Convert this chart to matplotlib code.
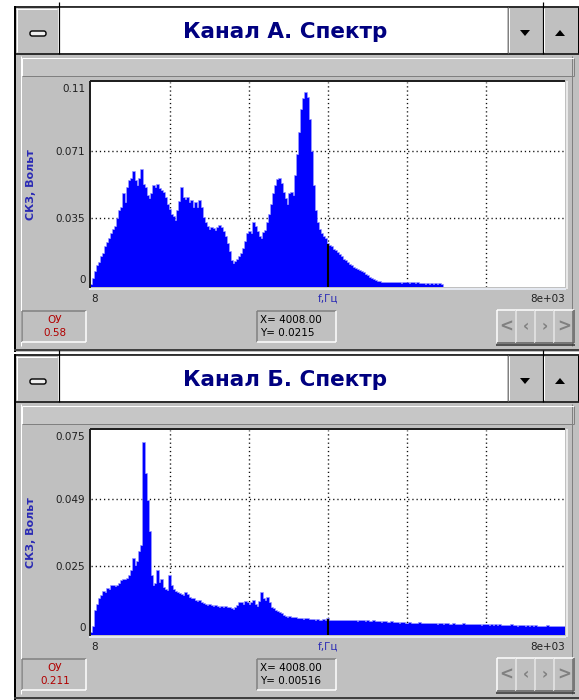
import numpy as np
import matplotlib
matplotlib.use("Agg")
import matplotlib.pyplot as plt
from matplotlib.patches import Rectangle, Polygon, FancyBboxPatch
from matplotlib import font_manager as fm

W, H, DPI = 579, 700, 100

installed = {f.name for f in fm.fontManager.ttflist}
NARROW = "Liberation Sans Narrow" if "Liberation Sans Narrow" in installed else "DejaVu Sans"

# ---------------------------------------------------------------- data
F_MIN, F_MAX = 8.0, 8000.0
N_BINS = 237  # spectral lines across the band

titles = ["Канал А. Спектр", "Канал Б. Спектр"]

# RMS per spectral line, millivolts (channel A)
spectrum_a_mv = [
    0, 3.0, 6.6, 10.2, 11.5, 14.7, 16.5, 20.0, 22.2, 24.0,
    26.9, 29.0, 30.8, 34.7, 38.8, 40.6, 47.8, 43.3, 51.4, 55.0,
    55.8, 59.8, 55.0, 52.3, 55.8, 60.9, 52.6, 51.4, 46.9, 45.1,
    47.8, 52.3, 51.4, 52.6, 50.8, 49.6, 48.7, 46.0, 42.4, 39.7,
    37.1, 35.8, 34.0, 38.8, 43.7, 51.4, 46.0, 44.8, 46.0, 43.3,
    44.2, 40.6, 43.0, 40.6, 44.2, 40.6, 35.3, 32.6, 30.8, 29.0,
    29.9, 29.4, 28.6, 29.9, 31.1, 29.9, 28.1, 25.4, 21.8, 17.4,
    12.9, 11.1, 12.0, 13.2, 14.7, 16.5, 19.2, 22.7, 26.9, 28.1,
    26.9, 32.9, 30.8, 28.1, 25.4, 24.5, 27.2, 28.6, 32.6, 37.1,
    42.4, 47.8, 52.3, 55.5, 55.8, 53.2, 48.7, 45.1, 42.4, 47.8,
    48.7, 46.9, 57.6, 68.4, 80.0, 92.5, 97.9, 101.0, 98.5, 87.2,
    70.2, 52.3, 38.8, 32.9, 29.0, 26.9, 25.4, 24.0, 21.5, 20.8,
    20.0, 18.6, 17.9, 16.8, 15.6, 14.7, 13.2, 12.5, 11.5, 10.7,
    10.0, 9.0, 8.2, 7.9, 7.2, 6.8, 6.1, 5.4, 4.8, 3.9,
    3.2, 2.5, 2.1, 1.8, 1.4, 1.3, 1.1, 0.9, 0.9, 1.1,
    0.9, 1.0, 0.8, 0.9, 1.1, 0.7, 0.8, 1.0, 0.9, 0.6,
    0.8, 0.9, 0.7, 0.8, 0.6, 0.7, 0.5,
    0.0, 0.4, 0.0, 0.5, 0.0, 0.4, 0.0, 0.4, 0.0,
]

# RMS per spectral line, millivolts (channel B)
spectrum_b_mv = [
    0, 2.1, 8.2, 10.3, 12.5, 13.7, 15.2, 14.9, 16.4, 15.9,
    17.4, 17.6, 17.1, 17.6, 18.3, 19.2, 19.8, 19.6, 20.0, 21.0,
    22.9, 27.4, 24.7, 26.5, 30.2, 32.3, 70.5, 58.9, 49.1, 37.5,
    21.0, 17.4, 18.0, 22.9, 18.6, 19.8, 16.7, 16.1, 15.5, 21.0,
    17.6, 15.9, 15.2, 14.9, 14.4, 14.2, 13.7, 14.7, 13.9, 13.1,
    12.5, 12.7, 11.9, 11.5, 11.7, 11.0, 10.6, 10.3, 10.0, 10.5,
    10.0, 9.8, 10.0, 9.7, 9.4, 9.8, 9.3, 9.5, 9.2, 9.3,
    8.8, 8.6, 9.3, 10.0, 11.2, 11.0, 10.3, 11.5, 11.0, 10.5,
    11.2, 11.9, 10.5, 9.8, 11.5, 14.7, 12.5, 11.9, 13.1, 11.0,
    9.4, 8.8, 8.1, 7.8, 7.3, 7.1, 6.4, 6.1, 5.7, 5.9,
    5.5, 5.4, 5.5, 5.1, 5.3, 5.1, 5.0, 5.1, 5.3, 4.9,
    4.8, 5.0, 4.6, 4.8, 4.5, 4.6, 4.8, 4.5, 5.2, 4.6,
    4.4, 4.5, 4.4, 4.6, 4.4, 4.5, 4.3, 4.4, 4.3, 4.4,
    4.5, 4.3, 4.4, 4.2, 4.5, 4.3, 4.4, 4.2, 4.3, 4.2,
    4.0, 4.3, 4.0, 3.9, 4.0, 3.8, 3.9, 4.0, 3.8, 3.7,
    3.9, 3.7,
    3.6, 3.7, 3.5, 3.6, 3.8, 3.5, 3.4, 3.6, 3.5, 3.3,
    3.5, 3.4, 3.6, 3.3, 3.4, 3.2, 3.4, 3.3, 3.5, 3.2,
    3.3, 3.1, 3.3, 3.2, 3.0, 3.2, 3.3, 3.1, 3.0, 3.2,
    3.1, 2.9, 3.1, 3.0, 3.2, 2.9, 3.0, 2.8, 3.0, 2.9,
    3.1, 2.8, 2.9, 2.7, 2.9, 2.8, 3.0, 2.7, 2.8, 2.6,
    2.8, 2.7, 2.9, 2.6, 2.7, 2.5, 2.7, 2.6, 2.8, 2.5,
    2.6, 2.4, 2.6, 2.5, 2.7, 2.4, 2.5, 2.3, 2.5, 2.4,
    2.6, 2.3, 2.4, 2.2, 2.4, 2.3, 2.5, 2.2, 2.3, 2.1,
    2.3, 2.2, 2.4, 2.1, 2.2,
]
spectra_mv = [spectrum_a_mv, spectrum_b_mv]

# vertical scale: full-scale value, tick values and their printed labels
y_full = [0.106, 0.0745]
y_ticks = [[0, 0.0353, 0.0707, 0.106], [0, 0.0248, 0.0497, 0.0745]]
y_tick_labels = [["0", "0.035", "0.071", "0.11"], ["0", "0.025", "0.049", "0.075"]]
x_tick_labels = ["8", "f,Гц", "8e+03"]
y_axis_title = "СКЗ, Вольт"

# cursor readouts and gain indicator
cursor_x = [4008.0, 4008.0]
cursor_y = [0.0215, 0.00516]
gain_label = "ОУ"
gain_values = ["0.58", "0.211"]

# ---------------------------------------------------------------- colours
GRAY = "#c0c0c0"
DARK = "#808080"
NAVY = "#000080"
BLUE = "#0000ff"
EDGE_BLUE = "#7070ff"
LABEL_BLUE = "#2a2ab4"
RED = "#b00000"

fig = plt.figure(figsize=(W / DPI, H / DPI), dpi=DPI)
fig.patch.set_facecolor("white")
bg = fig.add_axes([0, 0, 1, 1])
bg.set_xlim(0, W)
bg.set_ylim(H, 0)
bg.axis("off")

PX = 72.0 / DPI  # one pixel in points


def rect(x0, y0, x1, y1, fc, ec="none", lw=0.0, z=1):
    bg.add_patch(Rectangle((x0, y0), x1 - x0, y1 - y0, facecolor=fc,
                           edgecolor=ec, linewidth=lw, zorder=z))


def line(xs, ys, color, width=1.0, z=3):
    bg.plot(xs, ys, color=color, lw=width * PX, solid_capstyle="butt", zorder=z)


def bevel(x0, y0, x1, y1, light, dark, width=1.0, z=3):
    line([x0, x1], [y0, y0], light, width, z)
    line([x0, x0], [y0, y1], light, width, z)
    line([x0, x1], [y1, y1], dark, width, z)
    line([x1, x1], [y0, y1], dark, width, z)


def fig_axes(x0, y0, x1, y1):
    return fig.add_axes([x0 / W, 1 - y1 / H, (x1 - x0) / W, (y1 - y0) / H])


def draw_panel(k, top):
    # window frame and body
    rect(14, top, W + 2, top + 346, GRAY, z=1)
    line([14.5, 14.5], [top, top + 346], "black", 2)
    line([20.5, 20.5], [top + 50, top + 340], "white", 1)
    line([571.5, 571.5], [top + 50, top + 340], DARK, 1)

    # title bar
    rect(15, top + 1, 58, top + 47, GRAY, z=2)
    rect(58, top + 1, 507, top + 47, "white", z=2)
    rect(507, top + 1, 578, top + 47, GRAY, z=2)
    line([14, W], [top + 0.5, top + 0.5], "black", 1.5, z=4)
    line([14, W], [top + 47.5, top + 47.5], "black", 1.5, z=4)
    for xs in (58.5, 542.5):
        line([xs, xs], [top - 4, top + 47.5], "black", 1.2, z=4)
    line([507.5, 507.5], [top + 1, top + 47], DARK, 1, z=4)
    line([508.5, 508.5], [top + 2, top + 46], "white", 1, z=4)
    line([543.5, 543.5], [top + 2, top + 46], "white", 1, z=4)
    line([577.5, 577.5], [top + 1, top + 47], "black", 1, z=4)
    line([16.5, 16.5], [top + 2, top + 46], "white", 1, z=4)
    line([16, 57], [top + 2.5, top + 2.5], "white", 1, z=4)
    # minimise glyph
    bg.add_patch(FancyBboxPatch((30, top + 25), 16, 5, boxstyle="round,pad=0,rounding_size=2.2",
                                facecolor="#f0f0f0", edgecolor="black", lw=1.4 * PX, zorder=5))
    # list arrows
    cy = top + 27
    bg.add_patch(Polygon([[520, cy - 3], [530, cy - 3], [525, cy + 3]], closed=True,
                         facecolor="black", edgecolor="none", zorder=5))
    bg.add_patch(Polygon([[555, cy + 3], [565, cy + 3], [560, cy - 3]], closed=True,
                         facecolor="black", edgecolor="none", zorder=5))
    bg.text(285, top + 26, titles[k], ha="center", va="center", color=NAVY,
            fontsize=15.5, fontweight="bold", family="DejaVu Sans", zorder=6)

    # toolbar strip
    rect(22, top + 52, 574, top + 70, "#c6c6c6", z=2)
    bevel(22, top + 52, 574, top + 70, "white", DARK, 1, z=3)

    # plot well
    px0, py0, px1, py1 = 91, top + 76, 565, top + 281
    line([px0 - 1.5, px1], [py0 - 1, py0 - 1], "#202020", 2, z=3)
    line([px0 - 1.5, px0 - 1.5], [py0 - 1, py1 + 1], "#202020", 2, z=3)
    line([px0 - 2, px1 + 1], [py1 + 1.5, py1 + 1.5], "#e4e8f0", 2, z=3)
    line([px1 + 1.5, px1 + 1.5], [py0 - 1, py1 + 2], "#e8e8e8", 2, z=3)

    ax = fig_axes(px0, py0, px1, py1)
    ax.set_facecolor("white")
    for s in ax.spines.values():
        s.set_visible(False)

    full = y_full[k]
    pad = 2.0 * full / ((py1 - py0) - 4.0)
    ax.set_xlim(F_MIN, F_MAX)
    ax.set_ylim(-pad, full + pad)

    # dotted grid: six frequency divisions, three amplitude divisions
    for j in range(1, 6):
        ax.axvline(F_MIN + j * (F_MAX - F_MIN) / 6, color="#101010", lw=1.0,
                   ls=(0, (0.9, 2.1)), zorder=1)
    for yv in y_ticks[k][1:3]:
        ax.axhline(yv, color="#101010", lw=1.0, ls=(0, (0.9, 2.1)), zorder=1)

    vals = np.asarray(spectra_mv[k]) * 1e-3
    bw = (F_MAX - F_MIN) / N_BINS
    edges = F_MIN + bw * np.arange(len(vals) + 1)
    ax.stairs(vals, edges, baseline=-pad, fill=False, color=EDGE_BLUE, lw=1.1, zorder=2)
    ax.stairs(vals, edges, baseline=-pad, fill=True, color=BLUE, lw=0, zorder=3)

    # cursor marker
    ax.vlines(cursor_x[k], -pad, cursor_y[k], color="black", lw=1.5, zorder=4)

    # axis texts
    ax.set_yticks(y_ticks[k], y_tick_labels[k])
    ax.set_xticks([F_MIN, (F_MIN + F_MAX) / 2, F_MAX], x_tick_labels)
    ax.tick_params(axis="both", length=0, labelsize=7.5, colors="#202020")
    ax.tick_params(axis="y", pad=4)
    ax.tick_params(axis="x", pad=5)
    for t in ax.get_yticklabels() + ax.get_xticklabels():
        t.set_family(NARROW)
    ylabs = ax.get_yticklabels()
    ylabs[0].set_va("bottom")
    ylabs[-1].set_va("top")
    xlabs = ax.get_xticklabels()
    xlabs[0].set_ha("left")
    xlabs[2].set_ha("right")
    xlabs[1].set_color(LABEL_BLUE)

    bg.text(31, top + 179, y_axis_title, rotation=90, ha="center", va="center",
            color=LABEL_BLUE, fontsize=8, fontweight="bold", family=NARROW, zorder=6)

    # status row
    sy0, sy1 = top + 305, top + 336
    bevel(22, sy0, 86, sy1, DARK, "white", 1.5, z=3)
    bg.text(55, sy0 + 9, gain_label, ha="center", va="center", color=RED,
            fontsize=7.5, family=NARROW, zorder=6)
    bg.text(55, sy0 + 22, gain_values[k], ha="center", va="center", color=RED,
            fontsize=7.5, family=NARROW, zorder=6)
    bevel(257, sy0, 336, sy1, DARK, "white", 1.5, z=3)
    bg.text(260, sy0 + 9, f"X= {cursor_x[k]:.2f}", ha="left", va="center",
            color="black", fontsize=7.5, family=NARROW, zorder=6)
    bg.text(260, sy0 + 22, f"Y= {cursor_y[k]:g}", ha="left", va="center",
            color="black", fontsize=7.5, family=NARROW, zorder=6)

    # scroll buttons
    bx = [497, 516, 535, 554, 574]
    glyphs = ["<", "‹", "›", ">"]
    sizes = [12, 11, 11, 12]
    for b in range(4):
        bevel(bx[b], sy0 - 1, bx[b + 1], sy1 + 1, "white", "#606060", 1.5, z=3)
        bg.text((bx[b] + bx[b + 1]) / 2, (sy0 + sy1) / 2, glyphs[b], ha="center",
                va="center", color=DARK, fontsize=sizes[b], fontweight="bold",
                family="DejaVu Sans", zorder=6)
    line([496, 575], [sy1 + 2.5, sy1 + 2.5], "#303030", 1.5, z=4)

    # bottom edge of the window
    line([14, W], [top + 343.5, top + 343.5], "#404040", 2, z=4)


draw_panel(0, 6)
draw_panel(1, 354)

fig.savefig("out.png", dpi=DPI)
